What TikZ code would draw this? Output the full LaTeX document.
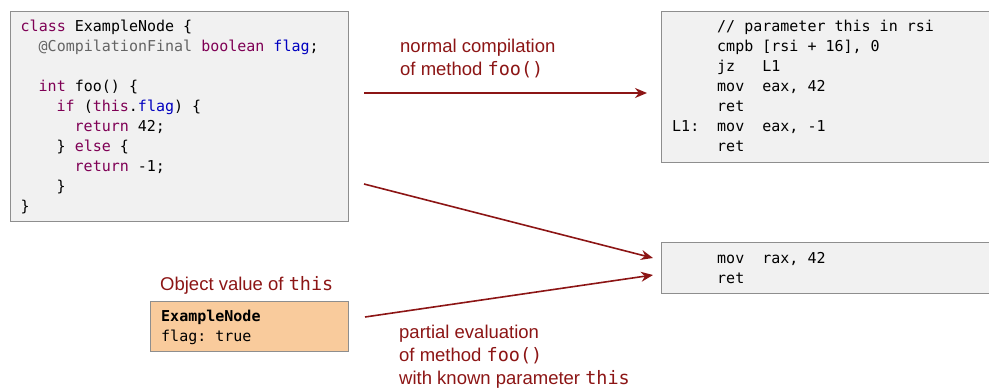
\documentclass[tikz,border=0pt]{standalone}
\usepackage{fontspec}
\setmainfont{Liberation Sans}
\setmonofont{DejaVu Sans Mono}
\usetikzlibrary{calc,arrows.meta}

\definecolor{kwcol}{HTML}{7F0055}
\definecolor{fieldcol}{HTML}{0000C0}
\definecolor{annocol}{HTML}{646464}
\definecolor{arrowcol}{HTML}{8C1515}
\definecolor{boxfill}{HTML}{F1F1F1}
\definecolor{boxline}{HTML}{8E8E8E}
\definecolor{objfill}{HTML}{F9CB9C}

\newcommand{\kw}[1]{\textcolor{kwcol}{#1}}
\newcommand{\fld}[1]{\textcolor{fieldcol}{#1}}
\newcommand{\anno}[1]{\textcolor{annocol}{#1}}

\begin{document}
\begin{tikzpicture}[x=1pt,y=-1pt,
	codebox/.style={draw=boxline,fill=boxfill,line width=1pt,anchor=north west,inner sep=0pt},
	codeline/.style={anchor=base west,inner sep=0pt,font=\fontsize{15}{20}\ttfamily},
	lbl/.style={anchor=base west,inner sep=0pt,text=arrowcol,font=\fontsize{18.5}{23}\selectfont},
	>={Stealth[length=12pt,width=10pt]}]
	
	\useasboundingbox (0,0) rectangle (989,389);
	
	%---------------------------------------------
	
	\node[codebox,minimum width=338pt,minimum height=210pt] (src) at (10,11) {};
	\node[codebox,minimum width=340pt,minimum height=151pt] (asmfull) at (661,11) {};
	\node[codebox,minimum width=340pt,minimum height=51pt] (asmpe) at (661,242) {};
	\node[codebox,fill=objfill,minimum width=198pt,minimum height=50pt] (obj) at (150,301) {};
	
	%---------------------------------------------
	
	\foreach \ind/\txt [count=\i from 0] in {
		0/{\kw{class} ExampleNode \{},
		2/{\anno{@CompilationFinal} \kw{boolean} \fld{flag};},
		2/{\kw{int} foo() \{},
		4/{\kw{if} (\kw{this}.\fld{flag}) \{},
		6/{\kw{return} 42;},
		4/{\} \kw{else} \{},
		6/{\kw{return} -1;},
		4/{\}},
		0/{\}}} {
		\pgfmathtruncatemacro{\row}{\i>1 ? \i+1 : \i}
		\node[codeline] (src\i) at ($(20.5,31)+(\ind*9,\row*20)$) {\txt};
	}
	
	%---------------------------------------------
	
	\foreach \txt [count=\i from 0] in {
		{// parameter this in rsi},
		{cmpb [rsi + 16], 0},
		{jz~~~L1},
		{mov~~eax, 42},
		{ret},
		{mov~~eax, -1},
		{ret}} {
		\node[codeline] (asm\i) at ($(717,31)+(0,\i*20)$) {\txt};
	}
	\node[codeline] (lone) at (672,131) {L1:};
	
	\node[codeline] (pe0) at (717,263) {mov~~rax, 42};
	\node[codeline] (pe1) at (717,283) {ret};
	
	\node[codeline] (obj0) at (161,321) {\bfseries ExampleNode};
	\node[codeline] (obj1) at (161,341) {flag: true};
	
	%---------------------------------------------
	
	\node[lbl] (objtitle) at (160,290) {Object value of \texttt{this}};
	
	\node[lbl] (norm0) at (400,52) {normal compilation};
	\node[lbl] (norm1) at (400,75) {of method \texttt{foo()}};
	
	\node[lbl] (part0) at (399,338) {partial evaluation};
	\node[lbl] (part1) at (399,361) {of method \texttt{foo()}};
	\node[lbl] (part2) at (399,384) {with known parameter \texttt{this}};
	
	%---------------------------------------------
	
	\coordinate (normS) at (364,93);
	\coordinate (normE) at (647,93);
	\coordinate (srcS) at (364,184);
	\coordinate (srcE) at (653,258);
	\coordinate (objS) at (365,317);
	\coordinate (objE) at (653,275);
	
	\tikzset{every path/.style={draw=arrowcol,line width=1.6pt}}
	
	\draw [->] (normS) -- (normE);
	\draw [->] (srcS) -- (srcE);
	\draw [->] (objS) -- (objE);
	
	%---------------------------------------------
	
\end{tikzpicture}
\end{document}
